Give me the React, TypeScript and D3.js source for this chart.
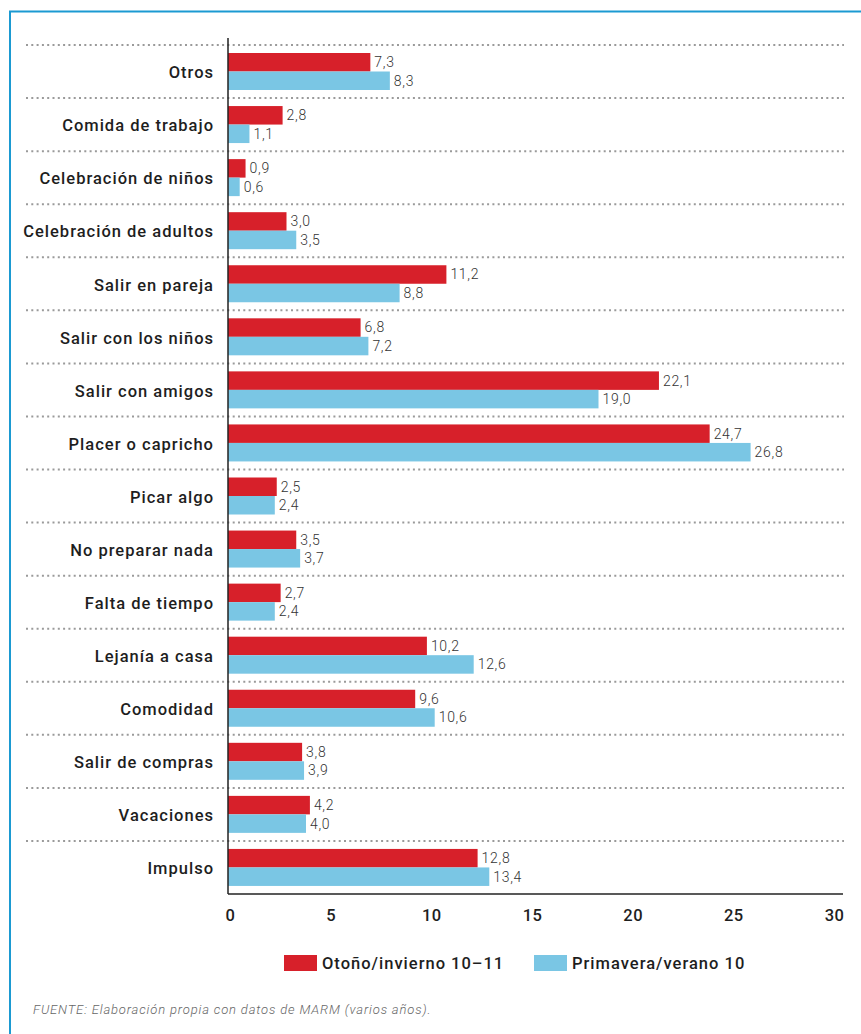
import React, { useEffect, useRef } from 'react';
import * as d3 from 'd3';

const categories = [
  'Otros',
  'Comida de trabajo',
  'Celebración de niños',
  'Celebración de adultos',
  'Salir en pareja',
  'Salir con los niños',
  'Salir con amigos',
  'Placer o capricho',
  'Picar algo',
  'No preparar nada',
  'Falta de tiempo',
  'Lejanía a casa',
  'Comodidad',
  'Salir de compras',
  'Vacaciones',
  'Impulso',
];

const otonoInvierno = [7.3, 2.8, 0.9, 3.0, 11.2, 6.8, 22.1, 24.7, 2.5, 3.5, 2.7, 10.2, 9.6, 3.8, 4.2, 12.8];
const primaveraVerano = [8.3, 1.1, 0.6, 3.5, 8.8, 7.2, 19.0, 26.8, 2.4, 3.7, 2.4, 12.6, 10.6, 3.9, 4.0, 13.4];

const seriesNames = ['Otoño/invierno 10–11', 'Primavera/verano 10'];
const seriesColors = ['#d7202a', '#7ac6e4'];
const xTicks = [0, 5, 10, 15, 20, 25, 30];
const source = 'FUENTE: Elaboración propia con datos de MARM (varios años).';

const WIDTH = 861;
const HEIGHT = 1034;
const FONT = 'Roboto, "Noto Sans", sans-serif';

export default function App() {
  const svgRef = useRef<SVGSVGElement>(null);

  useEffect(() => {
    if (!svgRef.current) return;
    const svg = d3.select(svgRef.current);
    svg.selectAll('*').remove();

    const x0 = 228;
    const top = 45;
    const bottom = 894;

    // bars and tick labels don't share the same spacing in the original
    const xScale = d3.scaleLinear().domain([0, 30]).range([x0, 813]);
    const tickScale = d3.scaleLinear().domain([0, 30]).range([230, 834]);

    const yScale = d3.scaleBand<string>().domain(categories).range([top, bottom]);
    const inner = d3.scaleBand<number>().domain([0, 1]).range([8, 45]);

    // frame
    svg.append('path')
      .attr('d', `M10,${HEIGHT + 5} L10,11.5 L${WIDTH + 5},11.5`)
      .attr('fill', 'none')
      .attr('stroke', '#1b9ad2')
      .attr('stroke-width', 2);

    // dotted separators
    svg.append('g')
      .selectAll('line')
      .data(categories)
      .join('line')
      .attr('x1', 26)
      .attr('x2', 844)
      .attr('y1', d => yScale(d)!)
      .attr('y2', d => yScale(d)!)
      .attr('stroke', '#9a9a9a')
      .attr('stroke-width', 2)
      .attr('stroke-dasharray', '2,3.3');

    const series = [otonoInvierno, primaveraVerano];

    const rows = svg.append('g')
      .selectAll('g')
      .data(categories)
      .join('g')
      .attr('transform', d => `translate(0,${yScale(d)})`);

    rows.append('text')
      .attr('x', 214)
      .attr('y', yScale.bandwidth() / 2 + 1)
      .attr('dy', '0.35em')
      .attr('text-anchor', 'end')
      .attr('font-family', FONT)
      .attr('font-weight', 500)
      .attr('font-size', 16.5)
      .attr('letter-spacing', 1)
      .attr('fill', '#1e1e1e')
      .text(d => d);

    series.forEach((vals, s) => {
      rows.append('rect')
        .attr('x', x0)
        .attr('y', inner(s)!)
        .attr('height', inner.bandwidth())
        .attr('width', (_, i) => xScale(vals[i]) - x0)
        .attr('fill', seriesColors[s]);

      rows.append('text')
        .attr('x', (_, i) => xScale(vals[i]) + 4)
        .attr('y', inner(s)! + inner.bandwidth() / 2)
        .attr('dy', '0.35em')
        .attr('font-family', FONT)
        .attr('font-weight', 300)
        .attr('font-size', 14)
        .attr('letter-spacing', 0.7)
        .attr('fill', '#333')
        .text((_, i) => d3.format('.1f')(vals[i]).replace('.', ','));
    });

    // vertical axis line
    svg.append('line')
      .attr('x1', x0)
      .attr('x2', x0)
      .attr('y1', 38)
      .attr('y2', bottom)
      .attr('stroke', '#222')
      .attr('stroke-width', 1.5);

    // bottom axis
    svg.append('line')
      .attr('x1', x0)
      .attr('x2', 843)
      .attr('y1', bottom)
      .attr('y2', bottom)
      .attr('stroke', '#222')
      .attr('stroke-width', 1.5);

    const axis = svg.append('g')
      .attr('transform', `translate(0,${bottom})`)
      .call(d3.axisBottom(tickScale).tickValues(xTicks).tickSize(0).tickPadding(15));
    axis.select('.domain').remove();
    axis.selectAll('text')
      .attr('font-family', FONT)
      .attr('font-weight', 500)
      .attr('font-size', 16.5)
      .attr('letter-spacing', 0.5)
      .attr('fill', '#1e1e1e');

    // legend
    const legendX = [284, 534];
    const legend = svg.append('g')
      .selectAll('g')
      .data(seriesNames)
      .join('g')
      .attr('transform', (_, i) => `translate(${legendX[i]},955)`);
    legend.append('rect')
      .attr('width', 33)
      .attr('height', 16)
      .attr('fill', (_, i) => seriesColors[i]);
    legend.append('text')
      .attr('x', 38)
      .attr('y', 8)
      .attr('dy', '0.35em')
      .attr('font-family', FONT)
      .attr('font-weight', 500)
      .attr('font-size', 16.5)
      .attr('letter-spacing', 1)
      .attr('fill', '#1e1e1e')
      .text(d => d);

    // source note
    svg.append('text')
      .attr('x', 33)
      .attr('y', 1014)
      .attr('font-family', FONT)
      .attr('font-style', 'italic')
      .attr('font-weight', 300)
      .attr('font-size', 13)
      .attr('letter-spacing', 0.85)
      .attr('fill', '#666')
      .text(source);
  }, []);

  return (
    <div style={{ position: 'absolute', left: 0, top: 0 }}>
      <svg ref={svgRef} width={WIDTH} height={HEIGHT} style={{ display: 'block', background: '#fff' }} />
    </div>
  );
}
